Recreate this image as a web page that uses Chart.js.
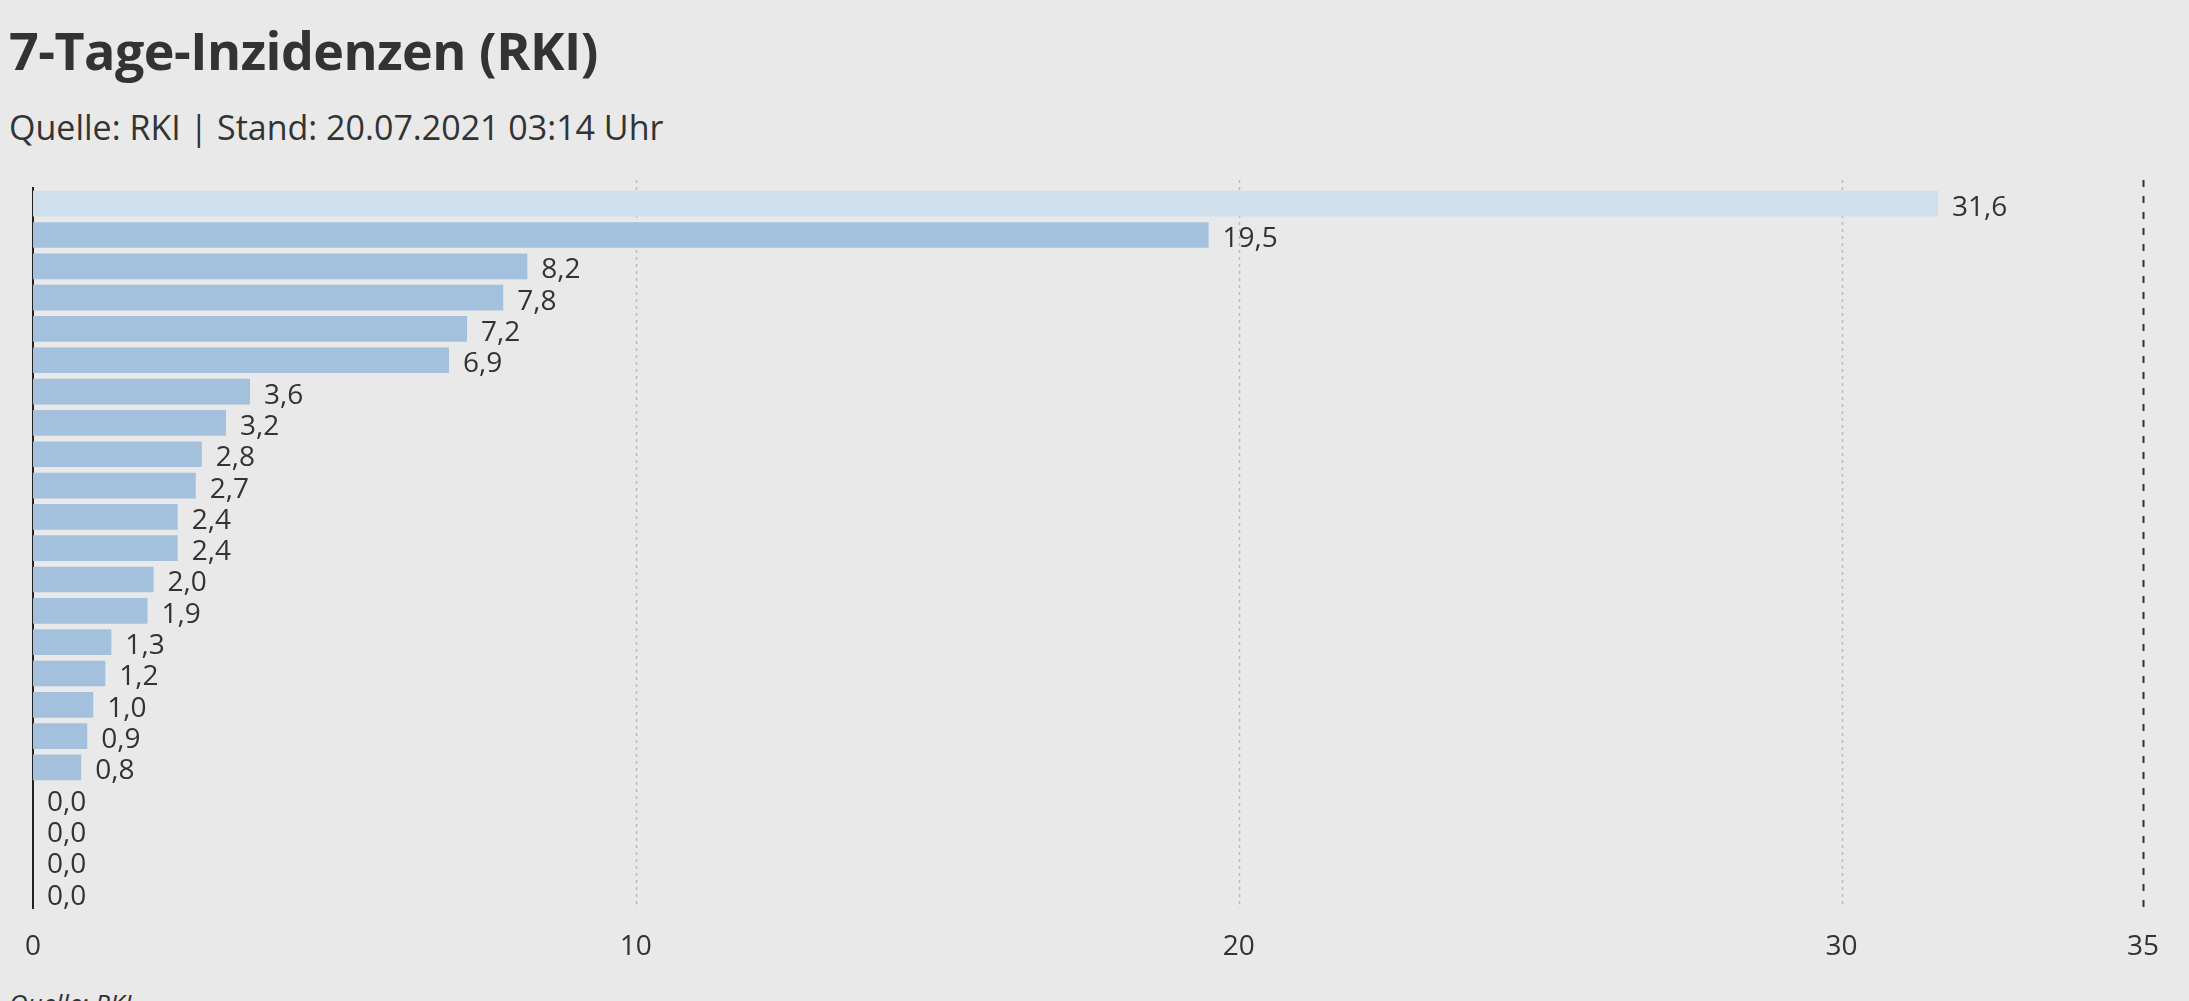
<!DOCTYPE html>
<html><head><meta charset="utf-8">
<script src="https://cdn.jsdelivr.net/npm/chart.js@4"></script>
<style>
html,body{margin:0;background:#e9e9e9;font-family:"Open Sans",sans-serif;color:#333;overflow:hidden}
h1{position:absolute;left:9px;top:14px;margin:0;font-size:52px;font-weight:700;letter-spacing:-0.5px}
.sub{position:absolute;left:9px;top:104px;font-size:34px}
.src{position:absolute;left:9px;top:985px;font-size:26px;font-style:italic}
#wrap{position:absolute;left:0;top:178px;width:2189px;height:800px}
</style></head><body>
<h1>7-Tage-Inzidenzen (RKI)</h1>
<div class="sub">Quelle: RKI | Stand: 20.07.2021 03:14 Uhr</div>
<div class="src">Quelle: RKI</div>
<div id="wrap"><canvas id="c"></canvas></div>
<script>
const categories = ["1","2","3","4","5","6","7","8","9","10","11","12","13","14","15","16","17","18","19","20","21","22","23"];
const values = [31.6,19.5,8.2,7.8,7.2,6.9,3.6,3.2,2.8,2.7,2.4,2.4,2.0,1.9,1.3,1.2,1.0,0.9,0.8,0.0,0.0,0.0,0.0];
const xTicks = [0,10,20,30,35];

const overlay = {
  id:'overlay',
  beforeDatasetsDraw(ch){
    const c=ch.ctx, x=ch.scales.x, a=ch.chartArea;
    c.save();
    xTicks.forEach(v=>{
      if(v===0) return;
      const px=Math.round(x.getPixelForValue(v))+0.5;
      c.beginPath();
      if(v===35){c.strokeStyle='#333';c.lineWidth=2;c.setLineDash([7,9]);}
      else {c.strokeStyle='#bbb';c.lineWidth=1.5;c.setLineDash([3,4]);}
      c.moveTo(px,a.top-8);c.lineTo(px,a.bottom);c.stroke();
    });
    c.restore();
  },
  afterDatasetsDraw(ch){
    const c=ch.ctx, meta=ch.getDatasetMeta(0);
    c.save();
    c.font='28px "Open Sans"';c.fillStyle='#333';c.textBaseline='middle';
    meta.data.forEach((b,i)=>{
      c.fillText(values[i].toFixed(1).replace('.',','), b.x+14, b.y+4);
    });
    c.restore();
  }
};

new Chart(document.getElementById('c'),{
  type:'bar',
  data:{labels:categories,datasets:[{data:values,
    backgroundColor:values.map((v,i)=>i===0?'#d0dfec':'#a3c1dc'),
    categoryPercentage:1,barPercentage:0.82}]},
  options:{indexAxis:'y',responsive:true,maintainAspectRatio:false,animation:false,
    layout:{padding:{left:25,right:46,top:10,bottom:0}},
    plugins:{legend:{display:false},tooltip:{enabled:false}},
    scales:{
      x:{min:0,max:35,afterBuildTicks(s){s.ticks=xTicks.map(v=>({value:v}));},
        grid:{display:false},border:{display:false},
        ticks:{font:{size:28,family:'"Open Sans"'},color:'#333',padding:14,maxRotation:0}},
      y:{grid:{display:false},border:{display:true,color:'#222',width:2},
        ticks:{display:false}}
    }},
  plugins:[overlay]
});
</script></body></html>
